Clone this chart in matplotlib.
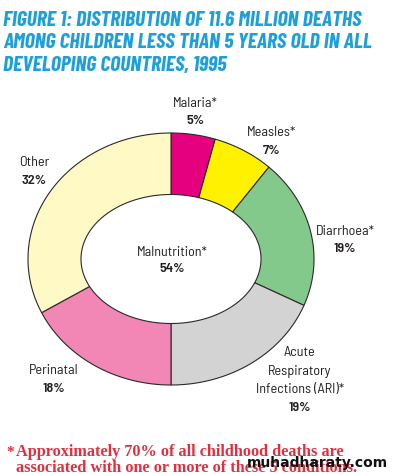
import numpy as np
import matplotlib
matplotlib.use("Agg")
import matplotlib.pyplot as plt
from matplotlib.patches import Polygon
from matplotlib import font_manager as fm

# ---- data ----
categories = ["Malaria*", "Measles*", "Diarrhoea*", "Acute\nRespiratory\nInfections (ARI)*", "Perinatal", "Other"]
values = [5, 7, 19, 19, 18, 32]
colors = ["#E4007F", "#FFF100", "#84C98C", "#D3D3D3", "#F286B4", "#FFF9C6"]
center_label = "Malnutrition*"
center_value = 54
title_lines = ["FIGURE 1: DISTRIBUTION OF 11.6 MILLION DEATHS",
               "AMONG CHILDREN LESS THAN 5 YEARS OLD IN ALL",
               "DEVELOPING COUNTRIES, 1995"]
footnote_lines = ["Approximately 70% of all childhood deaths are",
                  "associated with one or more of these 5 conditions."]
watermark = "muhadharaty.com"

avail = {f.name for f in fm.fontManager.ttflist}
def pick(*names):
    for n in names:
        if n in avail:
            return n
    return "DejaVu Sans"
title_font = pick("Barlow Condensed", "Asap Condensed", "Archivo Narrow")
label_font = pick("Barlow Semi Condensed", "Asap Condensed", "Archivo Narrow")

W, H = 395, 474
fig = plt.figure(figsize=(W / 100, H / 100), dpi=100)
ax = fig.add_axes([0, 0, 1, 1])
ax.set_xlim(0, W)
ax.set_ylim(H, 0)
ax.axis("off")
renderer = fig.canvas.get_renderer()

def width(t):
    return t.get_window_extent(renderer).width

cx, cy = 171, 259
Rx, Ry = 143, 126
rx, ry = 90, 64.5

total = sum(values)
start = 90.0
for v, c in zip(values, colors):
    sweep = 360.0 * v / total
    t = np.radians(np.linspace(start, start - sweep, 120))
    ox = cx + Rx * np.cos(t); oy = cy - Ry * np.sin(t)
    ix = cx + rx * np.cos(t[::-1]); iy = cy - ry * np.sin(t[::-1])
    pts = np.column_stack([np.concatenate([ox, ix]), np.concatenate([oy, iy])])
    ax.add_patch(Polygon(pts, closed=True, facecolor=c, edgecolor="#2a2a2a", linewidth=0.8))
    start -= sweep

lab_col = "#231f20"
lab_kw = dict(ha="center", va="center", fontsize=10.2, family=label_font, color=lab_col)
positions = [(195, 103), (272, 133), (345, 231), (300, 353), (54, 371), (34, 163)]
step = 18.3
for (x, y), name, v in zip(positions, categories, values):
    lines = name.split("\n")
    for i, ln in enumerate(lines):
        ax.text(x, y + i * step, ln, **lab_kw)
    ax.text(x, y + len(lines) * step, f"{v}%", fontweight="semibold", **lab_kw)
ax.text(172, 252, center_label, **lab_kw)
ax.text(172, 269.5, f"{center_value}%", fontweight="semibold", **lab_kw)

title_kw = dict(ha="left", va="baseline", fontsize=14, family=title_font,
                fontweight="bold", fontstyle="italic", color="#1D9FDB")
tt = [ax.text(3, 25.5 + i * 22.5, ln, **title_kw) for i, ln in enumerate(title_lines)]
target = 367 + 355 + 227
scale = target / sum(width(t) for t in tt)
for t in tt:
    t.set_fontsize(14 * scale)

serif = pick("Liberation Serif", "DejaVu Serif")
foot_kw = dict(ha="left", va="baseline", fontsize=11, family=serif, fontweight="bold", color="#E0303F")
ax.text(6, 456, "*", **foot_kw)
ff = [ax.text(16, 456 + i * 15.5, ln, **foot_kw) for i, ln in enumerate(footnote_lines)]
s = 329 / width(ff[0])
for t in ff:
    t.set_fontsize(11 * s)

wm = ax.text(388, 467, watermark, ha="right", va="baseline", fontsize=11, family="DejaVu Sans",
             fontweight="bold", color="#111111")
wm.set_fontsize(11 * 141 / width(wm))

fig.savefig("out.png", dpi=100)
